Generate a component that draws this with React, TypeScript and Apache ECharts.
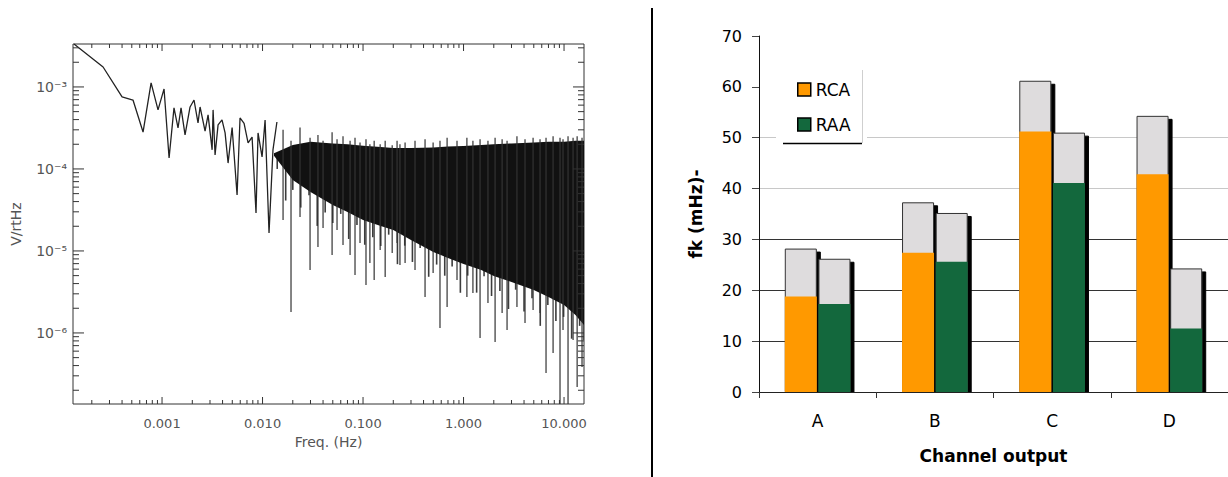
import React, { useEffect, useRef } from 'react';
import * as echarts from 'echarts';

// ---------------- Left panel: amplitude spectral density ----------------
// Low-frequency part of the trace, read point by point (Hz, V/rtHz)
const traceFreq = [1.33e-4, 2.59e-4, 4.0e-4, 5.14e-4, 6.47e-4, 7.78e-4, 9.12e-4, 1.047e-3, 1.175e-3, 1.315e-3, 1.442e-3, 1.545e-3, 1.694e-3, 1.9e-3, 2.08e-3, 2.28e-3, 2.39e-3, 2.68e-3, 2.87e-3, 3.15e-3, 3.22e-3, 3.37e-3, 3.61e-3, 3.95e-3, 4.24e-3, 4.54e-3, 4.98e-3, 5.58e-3, 5.97e-3, 6.55e-3, 7.18e-3, 7.87e-3, 8.61e-3, 9.02e-3, 9.89e-3, 1.06e-2, 1.16e-2, 1.27e-2, 1.39e-2];
const traceVal = [3.34e-3, 1.75e-3, 7.55e-4, 6.93e-4, 2.82e-4, 1.12e-3, 5.25e-4, 9.46e-4, 1.36e-4, 5.55e-4, 3.16e-4, 5.55e-4, 2.6e-4, 5.7e-4, 6.93e-4, 3.64e-4, 5.7e-4, 2.9e-4, 4.56e-4, 1.71e-4, 5.25e-4, 1.48e-4, 3.45e-4, 3.96e-4, 2.75e-4, 1.18e-4, 3.2e-4, 4.82e-5, 4.19e-4, 3.6e-4, 2.08e-4, 2.45e-4, 2.9e-5, 2.75e-4, 1.4e-4, 3.96e-4, 1.66e-5, 1.71e-4, 3.74e-4];

// Dense high-frequency part: top of the black mass and bottom of its solid core
const bandFreq = [0.013, 0.02, 0.03, 0.05, 0.07, 0.1, 0.15, 0.2, 0.3, 0.5, 0.7, 1, 1.5, 2, 3, 5, 7, 10, 13, 15.8];
const bandTop = [1.55e-4, 1.96e-4, 2.15e-4, 2.05e-4, 2.0e-4, 1.92e-4, 1.85e-4, 1.8e-4, 1.8e-4, 1.83e-4, 1.88e-4, 1.9e-4, 1.96e-4, 2.0e-4, 2.05e-4, 2.1e-4, 2.15e-4, 2.15e-4, 2.2e-4, 2.2e-4];
const bandBottom = [1.45e-4, 7.34e-5, 5.25e-5, 3.64e-5, 2.99e-5, 2.39e-5, 2.02e-5, 1.8e-5, 1.36e-5, 9.73e-6, 8.22e-6, 6.94e-6, 5.86e-6, 4.95e-6, 4.19e-6, 3.34e-6, 2.75e-6, 2.19e-6, 1.66e-6, 1.25e-6];
// Grey fringe lines hanging under the solid core (Hz, dip)
const fringeFreq = [0.014, 0.017, 0.02, 0.024, 0.029, 0.035, 0.042, 0.05, 0.06, 0.072, 0.087, 0.104, 0.125, 0.15, 0.18, 0.22, 0.26, 0.31, 0.37, 0.45, 0.54, 0.65, 0.77, 0.93, 1.1, 1.35, 1.6, 1.9, 2.3, 2.8, 3.3, 4.0, 4.8, 5.8, 6.9, 8.3, 9.9, 11.9, 14.3, 15.8];
const fringeLow = [1.0e-4, 4.12e-5, 5.55e-5, 3.38e-5, 4.78e-5, 2.02e-5, 2.95e-5, 2.19e-5, 2.83e-5, 1.4e-5, 2.07e-5, 1.19e-5, 1.47e-5, 1.15e-5, 1.58e-5, 6.9e-6, 1.16e-5, 7.34e-6, 1.09e-5, 4.84e-6, 6.82e-6, 4.99e-6, 6.45e-6, 3.09e-6, 5.0e-6, 3.1e-6, 4.9e-6, 2.82e-6, 3.24e-6, 1.96e-6, 3.37e-6, 1.83e-6, 2.65e-6, 1.22e-6, 2.19e-6, 1.4e-6, 1.57e-6, 8.51e-7, 1.22e-6, 8.22e-7];

// Individual spikes of the dense part (Hz, peak, dip)
const spikeFreq = [0.016, 0.0192, 0.0236, 0.0297, 0.0356, 0.04, 0.0492, 0.0551, 0.0632, 0.0743, 0.0832, 0.0933, 0.107, 0.117, 0.129, 0.148, 0.166, 0.195, 0.218, 0.233, 0.262, 0.329, 0.414, 0.498, 0.583, 0.686, 0.861, 1.08, 1.24, 1.46, 1.75, 2.06, 2.42, 2.71, 3.4, 4.09, 4.92, 5.77, 6.62, 7.78, 9.12, 9.77, 10.96, 12.3, 13.5, 15.1];
const spikeHigh = [3.0e-4, 2.2e-4, 3.2e-4, 2.4e-4, 2.6e-4, 2.2e-4, 2.8e-4, 2.3e-4, 2.5e-4, 2.2e-4, 2.4e-4, 2.1e-4, 2.3e-4, 2.0e-4, 2.2e-4, 2.0e-4, 2.2e-4, 1.95e-4, 2.2e-4, 2.0e-4, 2.1e-4, 2.2e-4, 2.3e-4, 2.1e-4, 2.2e-4, 2.4e-4, 2.2e-4, 2.4e-4, 2.2e-4, 2.3e-4, 2.2e-4, 2.4e-4, 2.3e-4, 2.2e-4, 2.5e-4, 2.3e-4, 2.4e-4, 2.3e-4, 2.4e-4, 2.5e-4, 2.4e-4, 2.3e-4, 2.5e-4, 2.4e-4, 2.5e-4, 2.4e-4];
const spikeLow = [2.39e-5, 1.8e-6, 2.6e-5, 5.86e-6, 1.12e-5, 1.91e-5, 8.93e-6, 1.8e-5, 1.18e-5, 8.93e-6, 5.09e-6, 1.25e-5, 3.85e-6, 7.14e-6, 4.43e-6, 1.03e-5, 4.82e-6, 9.46e-6, 1.25e-5, 6.75e-6, 7.14e-6, 5.86e-6, 2.75e-6, 5.4e-6, 1.15e-6, 2.07e-6, 4.43e-6, 2.75e-6, 3.08e-6, 8.69e-7, 2.32e-6, 7.76e-7, 1.75e-6, 1.09e-6, 2.07e-6, 1.32e-6, 1.91e-6, 1.75e-6, 3.25e-7, 5.7e-7, 1.36e-7, 1.09e-6, 1.36e-7, 8.22e-7, 2.19e-7, 3.85e-7];

// Tick positions of the box frame
const freqMajorTicks = [0.001, 0.01, 0.1, 1, 10];
const freqMinorTicks = [2e-4, 3e-4, 4e-4, 5e-4, 6e-4, 7e-4, 8e-4, 9e-4, 2e-3, 3e-3, 4e-3, 5e-3, 6e-3, 7e-3, 8e-3, 9e-3, 0.02, 0.03, 0.04, 0.05, 0.06, 0.07, 0.08, 0.09, 0.2, 0.3, 0.4, 0.5, 0.6, 0.7, 0.8, 0.9, 2, 3, 4, 5, 6, 7, 8, 9];
const ampMajorTicks = [1e-6, 1e-5, 1e-4, 1e-3];
const ampMinorTicks = [2e-7, 3e-7, 4e-7, 5e-7, 6e-7, 7e-7, 8e-7, 9e-7, 2e-6, 3e-6, 4e-6, 5e-6, 6e-6, 7e-6, 8e-6, 9e-6, 2e-5, 3e-5, 4e-5, 5e-5, 6e-5, 7e-5, 8e-5, 9e-5, 2e-4, 3e-4, 4e-4, 5e-4, 6e-4, 7e-4, 8e-4, 9e-4, 2e-3, 3e-3];

const X_MIN = 1.3e-4;
const X_MAX = 15.8;
const Y_MIN = 1.36e-7;
const Y_MAX = 3.34e-3;
const CORE_LEVEL = 1.5e-4; // fringe lines start inside the solid core

// ---------------- Right panel: fk per channel ----------------
const channels = ['A', 'B', 'C', 'D'];
const rcaBase = [18.8, 27.4, 51.2, 42.8];
const rcaTotal = [28.2, 37.3, 61.2, 54.3];
const raaBase = [17.3, 25.6, 41.1, 12.5];
const raaTotal = [26.2, 35.2, 51.0, 24.3];

const FONT = 'DejaVu Sans';
const supMap: Record<string, string> = { '-': '\u207B', '0': '\u2070', '1': '\u00B9', '2': '\u00B2', '3': '\u00B3', '4': '\u2074', '5': '\u2075', '6': '\u2076', '7': '\u2077', '8': '\u2078', '9': '\u2079' };

function tickSeriesX(values: number[], len: number) {
  return {
    type: 'custom', xAxisIndex: 0, yAxisIndex: 0, silent: true, z: 6,
    data: values.map((v) => [v, Y_MIN]),
    renderItem: (_p: any, api: any) => {
      const v = api.value(0);
      const b = api.coord([v, Y_MIN]);
      const t = api.coord([v, Y_MAX]);
      return {
        type: 'group', children: [
          { type: 'line', shape: { x1: b[0], y1: b[1], x2: b[0], y2: b[1] - len }, style: { stroke: '#333', lineWidth: 1 } },
          { type: 'line', shape: { x1: t[0], y1: t[1], x2: t[0], y2: t[1] + len }, style: { stroke: '#333', lineWidth: 1 } },
        ],
      };
    },
  };
}

function tickSeriesY(values: number[], len: number) {
  return {
    type: 'custom', xAxisIndex: 0, yAxisIndex: 0, silent: true, z: 6,
    data: values.map((v) => [X_MIN, v]),
    renderItem: (_p: any, api: any) => {
      const v = api.value(1);
      const l = api.coord([X_MIN, v]);
      const r = api.coord([X_MAX, v]);
      return {
        type: 'group', children: [
          { type: 'line', shape: { x1: l[0], y1: l[1], x2: l[0] + len, y2: l[1] }, style: { stroke: '#333', lineWidth: 1 } },
          { type: 'line', shape: { x1: r[0], y1: r[1], x2: r[0] - len, y2: r[1] }, style: { stroke: '#333', lineWidth: 1 } },
        ],
      };
    },
  };
}

function spikeSeries(rows: number[][], stroke: string, width: number, z: number) {
  return {
    type: 'custom', xAxisIndex: 0, yAxisIndex: 0, silent: true, z, clip: true,
    data: rows,
    renderItem: (_p: any, api: any) => {
      const f = api.value(0);
      const a = api.coord([f, api.value(1)]);
      const b = api.coord([f, api.value(2)]);
      return { type: 'line', shape: { x1: a[0], y1: a[1], x2: b[0], y2: b[1] }, style: { stroke, lineWidth: width } };
    },
  };
}

const barShadow = { shadowColor: '#000', shadowOffsetX: 4, shadowOffsetY: 3, shadowBlur: 0 };

const option: any = {
  animation: false,
  textStyle: { fontFamily: FONT },
  grid: [
    { left: 73, top: 44, width: 511, height: 360, show: true, borderColor: '#333', borderWidth: 1, backgroundColor: 'transparent' },
    { left: 759, top: 36, width: 469, height: 356 },
  ],
  xAxis: [
    {
      type: 'log', gridIndex: 0, logBase: 10, min: X_MIN, max: X_MAX,
      axisLine: { show: false }, axisTick: { show: false }, splitLine: { show: false },
      axisLabel: { showMinLabel: false, showMaxLabel: false, color: '#555', fontSize: 13, margin: 13, formatter: (v: number) => v.toFixed(3) },
      name: 'Freq. (Hz)', nameLocation: 'middle', nameGap: 30,
      nameTextStyle: { color: '#555', fontSize: 14 },
    },
    {
      type: 'category', gridIndex: 1, data: channels, z: 12,
      axisLine: { lineStyle: { color: '#222', width: 1 } },
      axisTick: { show: true, length: 6, lineStyle: { color: '#333' } },
      axisLabel: { color: '#000', fontSize: 17, margin: 20 },
      name: 'Channel output', nameLocation: 'middle', nameGap: 55,
      nameTextStyle: { color: '#000', fontSize: 17, fontWeight: 'bold' },
    },
    { type: 'category', gridIndex: 1, data: channels, show: false },
  ],
  yAxis: [
    {
      type: 'log', gridIndex: 0, logBase: 10, min: Y_MIN, max: Y_MAX,
      axisLine: { show: false }, axisTick: { show: false }, splitLine: { show: false },
      axisLabel: {
        showMinLabel: false, showMaxLabel: false, color: '#555', fontSize: 14, margin: 6,
        formatter: (v: number) => '10' + String(Math.round(Math.log10(v))).split('').map((c) => supMap[c] || c).join(''),
      },
      name: 'V/rtHz', nameLocation: 'middle', nameGap: 50,
      nameTextStyle: { color: '#555', fontSize: 14 },
    },
    {
      type: 'value', gridIndex: 1, min: 0, max: 70, interval: 10,
      axisLine: { show: true, lineStyle: { color: '#111', width: 1 } },
      axisTick: { show: true, length: 7, lineStyle: { color: '#444' } },
      axisLabel: { color: '#000', fontSize: 16, margin: 17 },
      splitLine: { show: true, lineStyle: { width: 1, color: ['#333', '#333', '#333', '#333', '#c8c8c8', '#c8c8c8', 'rgba(0,0,0,0)', 'rgba(0,0,0,0)'] } },
      name: 'fk (mHz)-', nameLocation: 'middle', nameGap: 55,
      nameTextStyle: { color: '#000', fontSize: 17, fontWeight: 'bold' },
    },
  ],
  legend: {
    data: ['RCA', 'RAA'], orient: 'vertical', left: 792, top: 76,
    itemWidth: 13, itemHeight: 13, itemGap: 18, icon: 'rect', selectedMode: false, z: 20,
    itemStyle: { borderColor: '#000', borderWidth: 1.5 },
    textStyle: { fontFamily: FONT, fontSize: 17, color: '#000' },
  },
  graphic: [
    { type: 'line', z: 10, shape: { x1: 652, y1: 8, x2: 652, y2: 477 }, style: { stroke: '#000', lineWidth: 2 } },
    { type: 'rect', z: 10, shape: { x: 776, y: 66, width: 91, height: 80 }, style: { fill: '#fff' } },
    { type: 'line', z: 11, shape: { x1: 862.5, y1: 70, x2: 862.5, y2: 143 }, style: { stroke: '#cfcfcf', lineWidth: 1 } },
    { type: 'line', z: 11, shape: { x1: 783, y1: 143.5, x2: 862, y2: 143.5 }, style: { stroke: '#000', lineWidth: 1.5 } },
    { type: 'rect', z: 10, shape: { x: 760, y: 392.5, width: 468, height: 4 }, style: { fill: '#fff' } },
  ],
  series: [
    {
      type: 'custom', xAxisIndex: 0, yAxisIndex: 0, silent: true, z: 3, clip: true,
      data: [[bandFreq[0], bandTop[0]]],
      renderItem: (_p: any, api: any) => {
        const pts: number[][] = [];
        for (let i = 0; i < bandFreq.length; i++) pts.push(api.coord([bandFreq[i], bandTop[i]]));
        for (let i = bandFreq.length - 1; i >= 0; i--) pts.push(api.coord([bandFreq[i], bandBottom[i]]));
        return { type: 'polygon', shape: { points: pts }, style: { fill: '#111' } };
      },
    },
    spikeSeries(fringeFreq.map((f, i) => [f, CORE_LEVEL, fringeLow[i]]), '#3c3c3c', 1.6, 2),
    spikeSeries(spikeFreq.map((f, i) => [f, spikeHigh[i], spikeLow[i]]), '#333', 1.2, 4),
    {
      type: 'line', xAxisIndex: 0, yAxisIndex: 0, z: 5, silent: true,
      data: traceFreq.map((f, i) => [f, traceVal[i]]),
      showSymbol: false, symbol: 'none',
      lineStyle: { color: '#222', width: 1.3 },
    },
    tickSeriesX(freqMajorTicks, 7),
    tickSeriesX(freqMinorTicks, 4),
    tickSeriesY(ampMajorTicks, 11),
    tickSeriesY(ampMinorTicks, 6),
    {
      name: 'RCA range', type: 'bar', xAxisIndex: 1, yAxisIndex: 1, z: 2,
      data: rcaTotal, barGap: '5%', barCategoryGap: '44%',
      itemStyle: { color: '#dedcdd', borderColor: '#333', borderWidth: 1, ...barShadow },
    },
    {
      name: 'RAA range', type: 'bar', xAxisIndex: 1, yAxisIndex: 1, z: 2,
      data: raaTotal, barGap: '5%', barCategoryGap: '44%',
      itemStyle: { color: '#dedcdd', borderColor: '#333', borderWidth: 1, ...barShadow },
    },
    {
      name: 'RCA', type: 'bar', xAxisIndex: 2, yAxisIndex: 1, z: 3,
      data: rcaBase, barGap: '5%', barCategoryGap: '44%',
      itemStyle: { color: '#ff9900' },
    },
    {
      name: 'RAA', type: 'bar', xAxisIndex: 2, yAxisIndex: 1, z: 3,
      data: raaBase, barGap: '5%', barCategoryGap: '44%',
      itemStyle: { color: '#13683d' },
    },
  ],
};

export default function App() {
  const ref = useRef<HTMLDivElement>(null);
  useEffect(() => {
    const chart = echarts.init(ref.current as HTMLDivElement, undefined, { renderer: 'svg' });
    chart.setOption(option);
    return () => chart.dispose();
  }, []);
  return <div ref={ref} style={{ position: 'absolute', left: 0, top: 0, width: 1228, height: 477, background: '#fff' }} />;
}
